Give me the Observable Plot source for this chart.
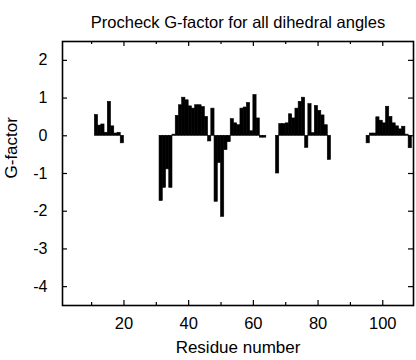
<!DOCTYPE html>
<html><head><meta charset="utf-8">
<script src="https://cdn.jsdelivr.net/npm/d3@7"></script>
<script src="https://cdn.jsdelivr.net/npm/@observablehq/plot@0.6"></script>
<style>html,body{margin:0;padding:0;background:#fff} svg{display:block}</style>
</head><body><div id="chart"></div>
<script>
const residues = [
  11,12,13,14,15,16,17,18,19,
  31,32,33,34,35,36,37,38,39,40,41,42,43,44,45,46,47,48,49,50,51,52,53,54,55,56,57,58,59,60,61,62,63,
  67,68,69,70,71,72,73,74,75,76,77,78,79,80,81,82,83,
  95,96,97,98,99,100,101,102,103,104,105,106,107,108
];
const gFactor = [
  0.55,0.27,0.30,0.08,0.90,0.25,0.06,0.08,-0.20,
  -1.73,-1.38,-0.89,-1.38,0.03,0.53,0.81,1.01,0.94,0.78,0.72,0.81,0.81,0.76,0.50,-0.15,0.72,-1.75,-0.72,-2.15,-0.38,-0.17,0.44,0.33,0.28,0.72,0.75,0.87,0.12,1.08,0.46,-0.05,-0.05,
  -1.00,0.31,0.31,0.33,0.57,0.46,0.72,0.90,1.01,-0.32,0.84,0.07,0.79,0.66,0.54,0.28,-0.64,
  -0.20,0.06,0.06,0.49,0.40,0.33,0.77,0.50,0.33,0.25,0.17,0.24,0.03,-0.33
];
const yTicks = [-4,-3,-2,-1,0,1,2];
const xLabelTicks = [20,40,60,80,100];
const xMinorTicks = [10,30,50,70,90];
const titleText = "Procheck G-factor for all dihedral angles";
const xLabel = "Residue number";
const yLabel = "G-factor";

const data = residues.map((r,i)=>({residue:r, g:gFactor[i]}));
const W=416, H=360, mL=62, mR=3, mT=41, mB=55;
const iw = W-mL-mR, ih = H-mT-mB;
const font = "'Liberation Sans', Arial, Helvetica, sans-serif";

const chart = Plot.plot({
  width: W, height: H,
  marginLeft: mL, marginRight: mR, marginTop: mT, marginBottom: mB,
  style: {fontFamily: font, background: "#fff", color: "#000"},
  x: {domain: [1, 109.5], axis: null},
  y: {domain: [-4.5, 2.5], axis: null},
  marks: [
    Plot.rect(data, {x1: "residue", x2: d => d.residue + 1, y1: 0, y2: "g", fill: "#000", stroke: "#000", strokeWidth: 0.6}),
    // inward ticks
    Plot.tickY(yTicks, {y: d => d, insetRight: iw - 5, stroke: "#000", strokeWidth: 1.2}),
    Plot.tickY(yTicks, {y: d => d, insetLeft: iw - 5, stroke: "#000", strokeWidth: 1.2}),
    Plot.tickX(xLabelTicks, {x: d => d, insetTop: ih - 5, stroke: "#000", strokeWidth: 1.2}),
    Plot.tickX(xLabelTicks, {x: d => d, insetBottom: ih - 5, stroke: "#000", strokeWidth: 1.2}),
    Plot.tickX(xMinorTicks, {x: d => d, insetTop: ih - 3, stroke: "#000", strokeWidth: 1.2}),
    Plot.tickX(xMinorTicks, {x: d => d, insetBottom: ih - 3, stroke: "#000", strokeWidth: 1.2}),
    Plot.frame({stroke: "#000", strokeWidth: 1.6}),
    Plot.axisY({ticks: yTicks, tickSize: 0, tickPadding: 15, fontSize: 16, label: null, tickFormat: d => String(d)}),
    Plot.axisX({ticks: xLabelTicks, tickSize: 0, tickPadding: 12, fontSize: 16.5, label: null, tickFormat: d => String(d)}),
    Plot.text([titleText], {frameAnchor: "top", dy: -25, fontSize: 16.5, text: d => d}),
    Plot.text([xLabel], {frameAnchor: "bottom", dy: 47, fontSize: 17, text: d => d}),
    Plot.text([yLabel], {frameAnchor: "left", dx: -51, dy: 5, rotate: -90, fontSize: 17, text: d => d})
  ]
});
document.getElementById("chart").appendChild(chart);
</script>
</body></html>
